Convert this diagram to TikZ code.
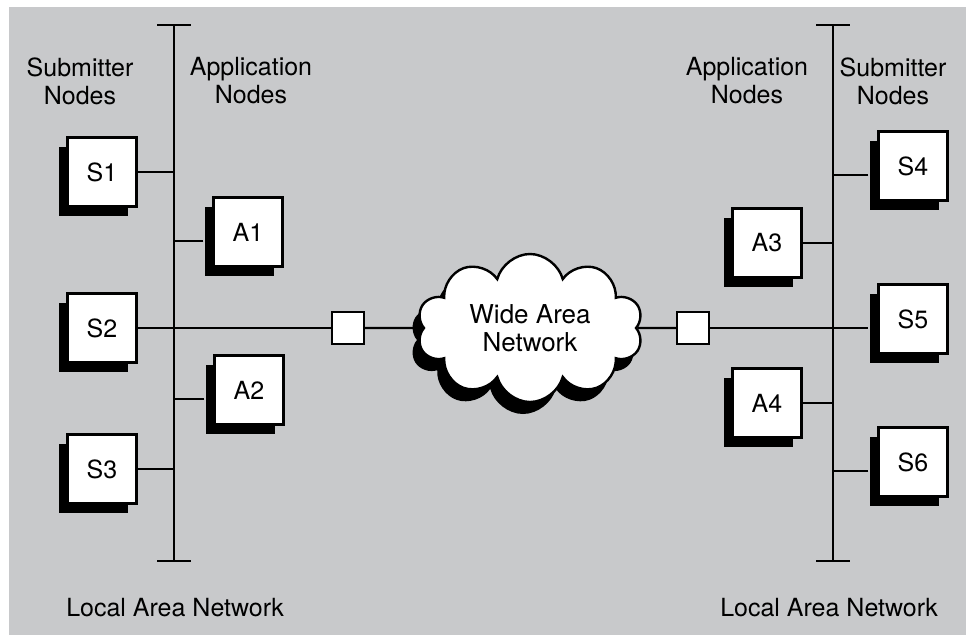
\documentclass[tikz,border=0pt]{standalone}
\usepackage{fontspec}
\setmainfont{TeX Gyre Heros}
\usetikzlibrary{shapes.symbols,shadows}
\definecolor{lan}{HTML}{C8C9CB}
\begin{document}
\begin{tikzpicture}[x=1pt,y=-1pt,
    host/.style={draw, line width=2.4pt, fill=white, minimum size=69pt, inner sep=0pt,
        font=\fontsize{25}{28}\selectfont,
        general shadow={fill=black, shadow xshift=-9pt, shadow yshift=-9pt}},
    port/.style={draw, line width=2.4pt, fill=white, minimum size=32pt, inner sep=0pt},
    wire/.style={line width=2.4pt},
    bus/.style={line width=2.8pt},
    lbl/.style={align=center, font=\fontsize{25}{28}\selectfont}]
    \useasboundingbox (0,0) rectangle (966,635);
    \fill (9,7) rectangle (966,635) [lan];

    \coordinate (lt) at (174,25);
    \coordinate (lb) at (174,561);
    \coordinate (rt) at (833,25);
    \coordinate (rb) at (833,561);
    \draw (lt) -- (lb) ([xshift=-17pt]lt) -- ([xshift=17pt]lt) ([xshift=-17pt]lb) -- ([xshift=17pt]lb) [bus];
    \draw (rt) -- (rb) ([xshift=-17pt]rt) -- ([xshift=17pt]rt) ([xshift=-17pt]rb) -- ([xshift=17pt]rb) [bus];

    \node (s1) at (102,172) [host] {S1};
    \node (s2) at (102,328) [host] {S2};
    \node (s3) at (102,469) [host] {S3};
    \node (a1) at (248,232) [host] {A1};
    \node (a2) at (249,390) [host] {A2};
    \node (a3) at (767,243) [host] {A3};
    \node (a4) at (767,403) [host] {A4};
    \node (s4) at (913,166) [host] {S4};
    \node (s5) at (913,319) [host] {S5};
    \node (s6) at (913,462) [host] {S6};

    \coordinate (a1s) at ([shift={(-9,9)}]a1.west);
    \coordinate (a2s) at ([shift={(-9,9)}]a2.west);
    \coordinate (s4s) at ([shift={(-9,9)}]s4.west);
    \coordinate (s5s) at ([shift={(-9,9)}]s5.west);
    \coordinate (s6s) at ([shift={(-9,9)}]s6.west);

    \node (wan) at (530,328) [cloud, cloud puffs=10, cloud ignores aspect, minimum width=226pt, minimum height=148pt,
        draw, line width=2.4pt, fill=white, general shadow={fill=black, shadow xshift=-7pt, shadow yshift=-12pt},
        lbl, font=\fontsize{26}{28}\selectfont] {Wide Area\\Network};
    \node (p1) at (348,328) [port] {};
    \node (p2) at (693,328) [port] {};

    \draw (s1.east) -- (s1.east -| lt) [wire];
    \draw (s3.east) -- (s3.east -| lt) [wire];
    \draw (a1s) -- (a1s -| lt) [wire];
    \draw (a2s) -- (a2s -| lt) [wire];
    \draw (s2.east) -- (p1.west) [wire];
    \draw (p1.east) -- (wan) [wire];
    \draw (wan) -- (p2.west) [wire];
    \draw (p2.east) -- (s5s) [wire];
    \draw (a3.east) -- (a3.east -| rt) [wire];
    \draw (a4.east) -- (a4.east -| rt) [wire];
    \draw (s4s) -- (s4s -| rt) [wire];
    \draw (s6s) -- (s6s -| rt) [wire];

    \node (lsub) at (80,81) [lbl] {Submitter\\Nodes};
    \node (lapp) at (251,81) [lbl] {Application\\Nodes};
    \node (rapp) at (747,81) [lbl] {Application\\Nodes};
    \node (rsub) at (893,81) [lbl] {Submitter\\Nodes};
    \node (llan) at (175,608) [lbl] {Local Area Network};
    \node (rlan) at (829,608) [lbl] {Local Area Network};
\end{tikzpicture}
\end{document}
